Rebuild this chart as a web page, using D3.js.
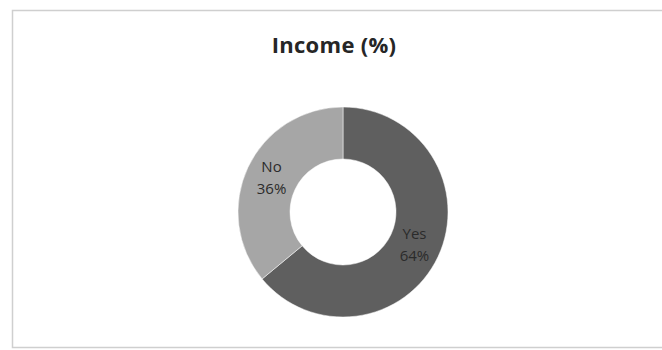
<!DOCTYPE html>
<html>
<head>
<meta charset="utf-8">
<script src="https://cdn.jsdelivr.net/npm/d3@7"></script>
<style>
  html, body { margin: 0; padding: 0; background: #ffffff; }
  svg { display: block; }
</style>
</head>
<body>
<svg id="chart" width="662" height="350"></svg>
<script>
// Income share by answer
const categories = ["Yes", "No"];
const values = [64, 36];
const colors = ["#5f5f5f", "#a6a6a6"];
const title = "Income (%)";

const svg = d3.select("#chart");

// chart area frame
svg.append("rect")
  .attr("x", 12.5).attr("y", 10.5)
  .attr("width", 700).attr("height", 337)
  .attr("fill", "#ffffff")
  .attr("stroke", "#cfcfcf")
  .attr("stroke-width", 1.5);

svg.append("text")
  .attr("x", 334).attr("y", 53)
  .attr("text-anchor", "middle")
  .attr("font-family", "'Open Sans', 'Liberation Sans', sans-serif")
  .attr("font-weight", "bold")
  .attr("font-size", 22)
  .attr("letter-spacing", 0.3)
  .attr("fill", "#262626")
  .text(title);

const cx = 343, cy = 212;
const outerR = 105, innerR = 53;

const data = categories.map((c, i) => ({ name: c, value: values[i], color: colors[i] }));

const pie = d3.pie().sort(null).value(d => d.value);
const arc = d3.arc().innerRadius(innerR).outerRadius(outerR);

const g = svg.append("g").attr("transform", `translate(${cx},${cy})`);

const arcs = pie(data);

g.selectAll("path.slice")
  .data(arcs)
  .join("path")
  .attr("class", "slice")
  .attr("d", arc)
  .attr("fill", d => d.data.color)
  .attr("stroke", "#ffffff")
  .attr("stroke-width", 0.5);

const labels = g.selectAll("text.lbl")
  .data(arcs)
  .join("text")
  .attr("class", "lbl")
  .attr("transform", d => `translate(${arc.centroid(d)})`)
  .attr("text-anchor", "middle")
  .attr("font-family", "'Open Sans', 'Liberation Sans', sans-serif")
  .attr("font-size", 15)
  .attr("fill", "#2b2b2b");

labels.append("tspan")
  .attr("x", 0).attr("dy", "-0.45em")
  .text(d => d.data.name);
labels.append("tspan")
  .attr("x", 0).attr("dy", "1.5em")
  .text(d => d.data.value + "%");
</script>
</body>
</html>
